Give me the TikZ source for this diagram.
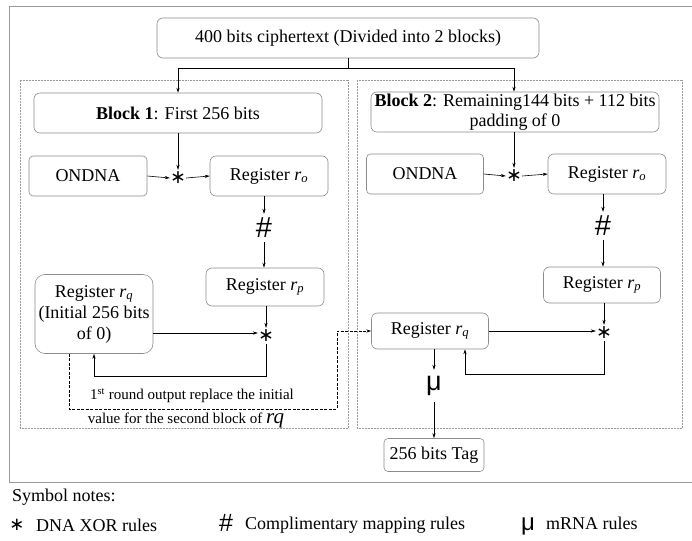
\documentclass[tikz,border=0pt]{standalone}
\usepackage{fontspec}
\setmainfont{Liberation Serif}
\newfontfamily\symdv{DejaVu Sans}
\newfontfamily\symls{Liberation Sans}
\usetikzlibrary{arrows.meta}
\newcommand\rsub[1]{\textit{r}\textsubscript{\textit{#1}}}
\newcommand\fs[1]{\fontsize{#1}{#1}\selectfont}
\newcommand\fsb[2]{\fontsize{#1}{#2}\selectfont}
\begin{document}
\begin{tikzpicture}[x=1pt,y=-1pt,
  box/.style={draw=black!45, line width=0.6pt, rounded corners=6pt, align=center, inner sep=0pt, font=\fs{18}},
  panel/.style={draw=black!40, densely dotted, line width=0.5pt},
  arr/.style={-{Stealth[length=5pt,width=3.2pt]}, line width=0.6pt},
  dasharr/.style={-{Stealth[length=5pt,width=3.2pt]}, line width=0.7pt, dash pattern=on 3pt off 1.5pt},
  symb/.style={inner sep=0pt, minimum width=16pt, minimum height=16pt},
  hashn/.style={inner sep=0pt, minimum width=16pt, minimum height=28pt, font=\symls\fs{29}},
  starn/.style={symb, font=\symdv\fs{19}},
  lbl/.style={inner sep=0pt, anchor=west}
]
\useasboundingbox (0,0) rectangle (692,540);
% outer frame
\draw[black!40, line width=1pt] (700,7) -- (9,7) -- (9,482) -- (700,482);
% panels
\draw[panel] (20,80) rectangle (348,428);
\draw[panel] (357,80) rectangle (682,428);

% top box
\node[box, minimum width=382pt, minimum height=40pt] (top) at (348,38) {400 bits ciphertext (Divided into 2 blocks)};
\node[box, minimum width=288pt, minimum height=40pt] (b1) at (178,113) {\textbf{Block 1}: First 256 bits};
\node[box, minimum width=288pt, minimum height=40pt, font=\fsb{18}{20}] (b2) at (515,112) {\textbf{Block 2}: Remaining144 bits + 112 bits\\padding of 0};
\coordinate (split) at (348,68);
\draw[line width=0.6pt] (top.south -| split) -- (split);
\draw[arr] (split) -| (b1.north);
\draw[arr] (split) -| ([xshift=-1pt]b2.north);

% left block
\node[box, rounded corners=4pt, minimum width=118pt, minimum height=40pt] (ondL) at (88,176) {ONDNA};
\node[starn] (stL) at (178,178) {∗};
\node[box, minimum width=118pt, minimum height=40pt] (roL) at (269,176) {Register \rsub{o}};
\node[hashn] (hL) at (264,228) {\#};
\node[box, minimum width=118pt, minimum height=38pt] (rpL) at (265,287) {Register \rsub{p}};
\node[starn] (st2L) at (266,336) {∗};
\node[box, rounded corners=10pt, minimum width=118pt, minimum height=79pt, font=\fsb{18}{21}] (rqL) at (94,314) {Register \rsub{q}\\(Initial 256 bits\\of 0)};

\draw[arr] (b1.south) -- (stL.north);
\draw[arr] (ondL.east) -- (stL.west);
\draw[arr] (stL.east) -- (roL.west);
\draw[arr] (roL.south -| hL) -- (hL.north);
\draw[arr] (hL.south) -- (hL |- rpL.north);
\draw[arr] (rpL.south -| st2L) -- (st2L.north);
\draw[arr] (rqL.east |- 0,333) -- (st2L.west |- 0,333);
\coordinate (fbL) at (94,376);
\draw[arr] (st2L.south) |- (fbL) -- (rqL.south);

% right block
\node[box, rounded corners=4pt, minimum width=117pt, minimum height=40pt] (ondR) at (425,174) {ONDNA};
\node[starn] (stR) at (514,176) {∗};
\node[box, minimum width=118pt, minimum height=40pt] (roR) at (607,174) {Register \rsub{o}};
\node[hashn] (hR) at (603,226) {\#};
\node[box, minimum width=117pt, minimum height=36pt] (rpR) at (602,285) {Register \rsub{p}};
\node[starn] (st2R) at (604,333) {∗};
\node[box, minimum width=117pt, minimum height=36pt] (rqR) at (430,331) {Register \rsub{q}};
\node[inner sep=0pt, minimum width=16pt, minimum height=32pt, font=\symls\fs{27}] (mu) at (434,386) {μ};
\node[box, rounded corners=4pt, minimum width=100pt, minimum height=33pt] (tag) at (434,455) {256 bits Tag};

\draw[arr] (b2.south -| stR) -- (stR.north);
\draw[arr] (ondR.east) -- (stR.west);
\draw[arr] (stR.east) -- (roR.west);
\draw[arr] (roR.south -| hR) -- (hR.north);
\draw[arr] (hR.south) -- (hR |- rpR.north);
\draw[arr] (rpR.south -| st2R) -- (st2R.north);
\draw[arr] (rqR.east) -- (st2R.west |- rqR.east);
\coordinate (fbR) at (465,374);
\draw[arr] (st2R.south) |- (fbR) -- (fbR |- rqR.south);
\draw[arr] (rqR.south -| mu) -- (mu.north);
\draw[arr] (mu.south) -- (tag.north);

% dashed transfer
\coordinate (dA) at (69,409);
\coordinate (dB) at (337,331);
\draw[dasharr] (rqL.south -| dA) -- (dA) -| (dB |- rqR.west) -- (rqR.west);
\node[inner sep=0pt, font=\fs{15}] (n1) at (192,396) {1\textsuperscript{st} round output replace the initial};
\node[inner sep=0pt, font=\fs{15}] (n2) at (186,420) {value for the second block of {\fs{21}\textit{rq}}};

% legend
\node[lbl, font=\fs{18}] (sn) at (12,497) {Symbol notes:};
\node[inner sep=0pt, font=\symdv\fs{18}] (l1s) at (17,525) {∗};
\node[lbl, font=\fs{18}] (l1) at (36,525) {DNA XOR rules};
\node[inner sep=0pt, font=\symls\fs{25}] (l2s) at (226,523) {\#};
\node[lbl, font=\fs{18}] (l2) at (245,525) {Complimentary mapping rules};
\node[inner sep=0pt, font=\symls\fs{24}] (l3s) at (528,526) {μ};
\node[lbl, font=\fs{18}] (l3) at (546,523) {mRNA rules};
\end{tikzpicture}
\end{document}
